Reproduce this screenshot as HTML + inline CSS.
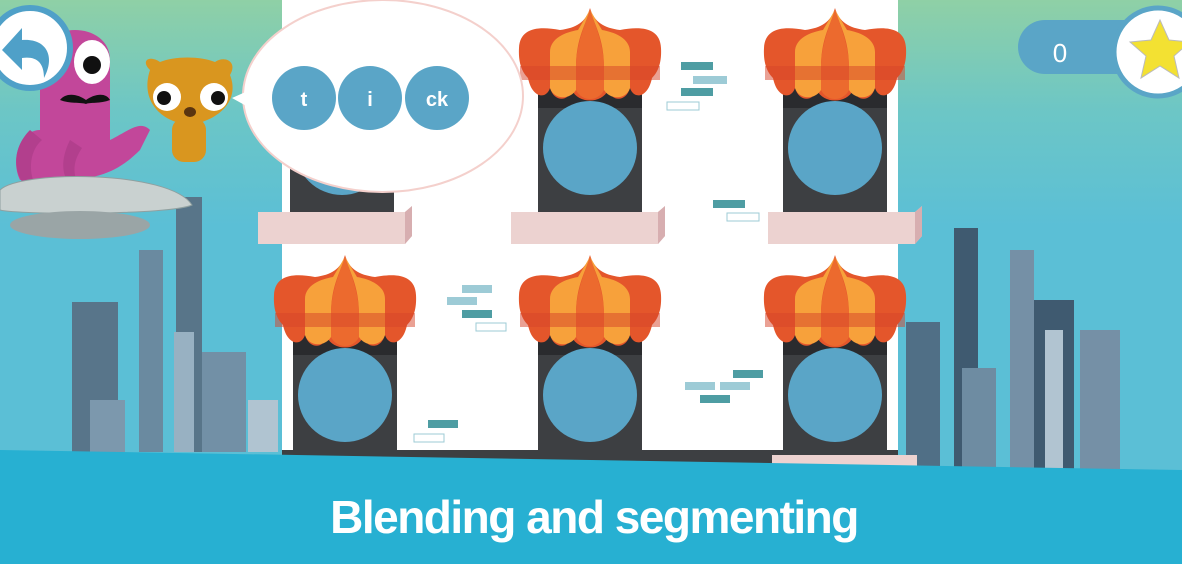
<!DOCTYPE html>
<html><head><meta charset="utf-8"><style>
html,body{margin:0;padding:0;width:1182px;height:564px;overflow:hidden;background:#5bbfd6}
svg{display:block}
</style></head><body>
<svg width="1182" height="564" viewBox="0 0 1182 564" xmlns="http://www.w3.org/2000/svg">
<defs>
<linearGradient id="sky" x1="0" y1="0" x2="0" y2="1">
<stop offset="0" stop-color="#8fd0a6"/><stop offset="0.2" stop-color="#6cc6c6"/><stop offset="0.4" stop-color="#5bbfd6"/><stop offset="1" stop-color="#5bbfd6"/>
</linearGradient>
<g id="tower">
<rect x="-52" y="70" width="104" height="138" fill="#3d3f42"/>
<rect x="-52" y="70" width="104" height="30" fill="#2a2b2e"/>
<circle cx="0" cy="140" r="47" fill="#5aa5c7"/>
<path d="M0 0 C4 14 14 20 30 22 C52 18 70 20 71 40 C72 58 66 66 62 70 C58 90 44 92 40 80 C36 94 22 94 18 82 C12 96 -12 96 -18 82 C-22 94 -36 94 -40 80 C-44 92 -58 90 -62 70 C-66 66 -72 58 -71 40 C-70 20 -52 18 -30 22 C-14 20 -4 14 0 0Z" fill="#e4562b"/>
<path d="M0 2 C-6 20 -14 32 -14 60 L-14 82 C-20 92 -36 92 -40 80 L-40 44 C-40 30 -24 24 -12 22Z" fill="#f7a13b"/>
<path d="M0 2 C6 20 14 32 14 60 L14 82 C20 92 36 92 40 80 L40 44 C40 30 24 24 12 22Z" fill="#f7a13b"/>
<path d="M0 2 C-8 24 -14 40 -14 60 L-14 82 C-8 94 8 94 14 82 L14 60 C14 40 8 24 0 2Z" fill="#ec6a2e"/>
<rect x="-70" y="58" width="140" height="14" fill="#d6432a" opacity="0.5"/>
</g>
<g id="ledge">
<path d="M-77 0 L70 0 L77 -6 L77 24 L70 32 L-77 32Z" fill="#ecd2d0"/>
<path d="M70 0 L77 -6 L77 24 L70 32Z" fill="#d7aeb0"/>
</g>
</defs>
<rect width="1182" height="564" fill="url(#sky)"/>
<!-- left city -->
<g fill="#5c7b92">
<rect x="72" y="302" width="46" height="150" fill="#58758a"/>
<rect x="139" y="250" width="24" height="202" fill="#6a8aa0"/>
<rect x="176" y="197" width="26" height="255" fill="#587589"/>
<rect x="90" y="400" width="35" height="52" fill="#7c98ad"/>
<rect x="174" y="332" width="20" height="120" fill="#98b1c2"/>
<rect x="202" y="352" width="44" height="100" fill="#7290a6"/>
<rect x="248" y="400" width="30" height="52" fill="#b0c4d1"/>
</g>
<!-- right city -->
<rect x="906" y="322" width="34" height="148" fill="#506f86"/>
<rect x="954" y="228" width="24" height="242" fill="#3f5a70"/>
<rect x="962" y="368" width="34" height="102" fill="#6e8ca2"/>
<rect x="1010" y="250" width="24" height="220" fill="#7590a6"/>
<rect x="1034" y="300" width="40" height="170" fill="#3f5a70"/>
<rect x="1045" y="330" width="18" height="140" fill="#b1c4d1"/>
<rect x="1080" y="330" width="40" height="140" fill="#7590a6"/>
<!-- white wall -->
<rect x="282" y="0" width="616" height="462" fill="#ffffff"/>
<!-- bricks -->
<g fill="#4e9da3">
<rect x="681" y="62" width="32" height="8"/><rect x="693" y="76" width="34" height="8" fill="#9dcbd6"/><rect x="681" y="88" width="32" height="8"/><rect x="667" y="102" width="32" height="8" fill="none" stroke="#9dcbd6"/>
<rect x="713" y="200" width="32" height="8"/><rect x="727" y="213" width="32" height="8" fill="none" stroke="#9dcbd6"/>
<rect x="462" y="285" width="30" height="8" fill="#9dcbd6"/><rect x="447" y="297" width="30" height="8" fill="#9dcbd6"/><rect x="462" y="310" width="30" height="8"/><rect x="476" y="323" width="30" height="8" fill="none" stroke="#9dcbd6"/>
<rect x="733" y="370" width="30" height="8"/><rect x="685" y="382" width="30" height="8" fill="#9dcbd6"/><rect x="720" y="382" width="30" height="8" fill="#9dcbd6"/><rect x="700" y="395" width="30" height="8" fill="#4e9da3"/>
<rect x="428" y="420" width="30" height="8"/><rect x="414" y="434" width="30" height="8" fill="none" stroke="#9dcbd6"/>
</g>
<!-- towers -->
<use href="#tower" x="342" y="8"/><use href="#ledge" x="335" y="212"/>
<use href="#tower" x="590" y="8"/><use href="#ledge" x="588" y="212"/>
<use href="#tower" x="835" y="8"/><use href="#ledge" x="845" y="212"/>
<use href="#tower" x="345" y="255"/>
<use href="#tower" x="590" y="255"/>
<use href="#tower" x="835" y="255"/>
<rect x="282" y="450" width="616" height="14" fill="#3d3f42"/>
<rect x="772" y="455" width="145" height="14" fill="#ecd2d0"/>
<!-- bottom banner -->
<path d="M0 450 L1182 470 L1182 564 L0 564Z" fill="#27b0d2"/>
<text x="594" y="533" text-anchor="middle" font-family="'Liberation Sans',sans-serif" font-size="46" font-weight="bold" fill="#ffffff" letter-spacing="-1.5">Blending and segmenting</text>
<!-- speech bubble -->
<ellipse cx="383" cy="96" rx="140" ry="96" fill="#ffffff" stroke="#f4d0cc" stroke-width="2"/>
<path d="M232 98 L250 90 L250 108Z" fill="#ffffff"/>
<circle cx="304" cy="98" r="32" fill="#5aa5c7"/>
<circle cx="370" cy="98" r="32" fill="#5aa5c7"/>
<circle cx="437" cy="98" r="32" fill="#5aa5c7"/>
<g font-family="'Liberation Sans',sans-serif" font-size="20" font-weight="bold" fill="#fff" text-anchor="middle">
<text x="304" y="106">t</text><text x="370" y="106">i</text><text x="437" y="106">ck</text></g>
<!-- UFO + octopus -->
<path d="M40 60 C40 20 110 20 110 60 L110 140 C130 130 140 120 150 130 L140 150 C120 170 100 180 60 180 L20 180 C10 160 20 130 40 130Z" fill="#c2479a"/>
<path d="M30 130 C10 150 15 175 25 185 L35 185 C28 170 30 150 42 140Z" fill="#b23f8d"/>
<path d="M70 140 C60 160 62 175 70 185 L78 185 C72 170 74 160 82 148Z" fill="#b23f8d"/>
<ellipse cx="92" cy="62" rx="18" ry="22" fill="#fff"/><circle cx="92" cy="65" r="9" fill="#111"/>
<path d="M60 100 C66 92 78 94 86 100 C94 94 106 92 110 100 C100 104 90 102 86 104 C80 102 70 104 60 100Z" fill="#111"/>
<path d="M0 190 C20 170 170 170 192 205 C170 215 20 215 0 210Z" fill="#c9d1d0" stroke="#8fa0a0"/>
<ellipse cx="80" cy="225" rx="70" ry="14" fill="#9aa5a6"/>
<!-- bear -->
<path d="M150 70 C140 60 150 55 160 62 C175 56 200 56 215 62 C225 55 238 62 230 75 C240 100 220 120 190 125 C160 122 140 100 150 70Z" fill="#d9961f"/>
<rect x="172" y="118" width="34" height="44" rx="12" fill="#d9961f"/>
<circle cx="167" cy="97" r="14" fill="#fff"/><circle cx="164" cy="98" r="7" fill="#111"/>
<circle cx="214" cy="97" r="14" fill="#fff"/><circle cx="218" cy="98" r="7" fill="#111"/>
<ellipse cx="190" cy="112" rx="6" ry="5" fill="#5a3510"/>
<!-- back button -->
<circle cx="30" cy="48" r="40" fill="#ffffff"/>
<circle cx="30" cy="48" r="40" fill="none" stroke="#4fa0c8" stroke-width="6"/>
<path d="M2 50 L22 28 L22 40 C46 38 56 56 44 78 C44 62 36 56 22 58 L22 70Z" fill="#4fa0c8"/>
<!-- score -->
<rect x="1018" y="20" width="150" height="54" rx="27" fill="#5aa5c7"/>
<text x="1060" y="62" text-anchor="middle" font-family="'Liberation Sans',sans-serif" font-size="26" fill="#fff">0</text>
<circle cx="1158" cy="52" r="44" fill="#fff" stroke="#5aa5c7" stroke-width="5"/>
<path d="M1160 20 L1169 40 L1190 42 L1174 56 L1179 78 L1160 66 L1141 78 L1146 56 L1130 42 L1151 40Z" fill="#f3e132" stroke="#bbb" stroke-width="1"/>
</svg>
</body></html>
